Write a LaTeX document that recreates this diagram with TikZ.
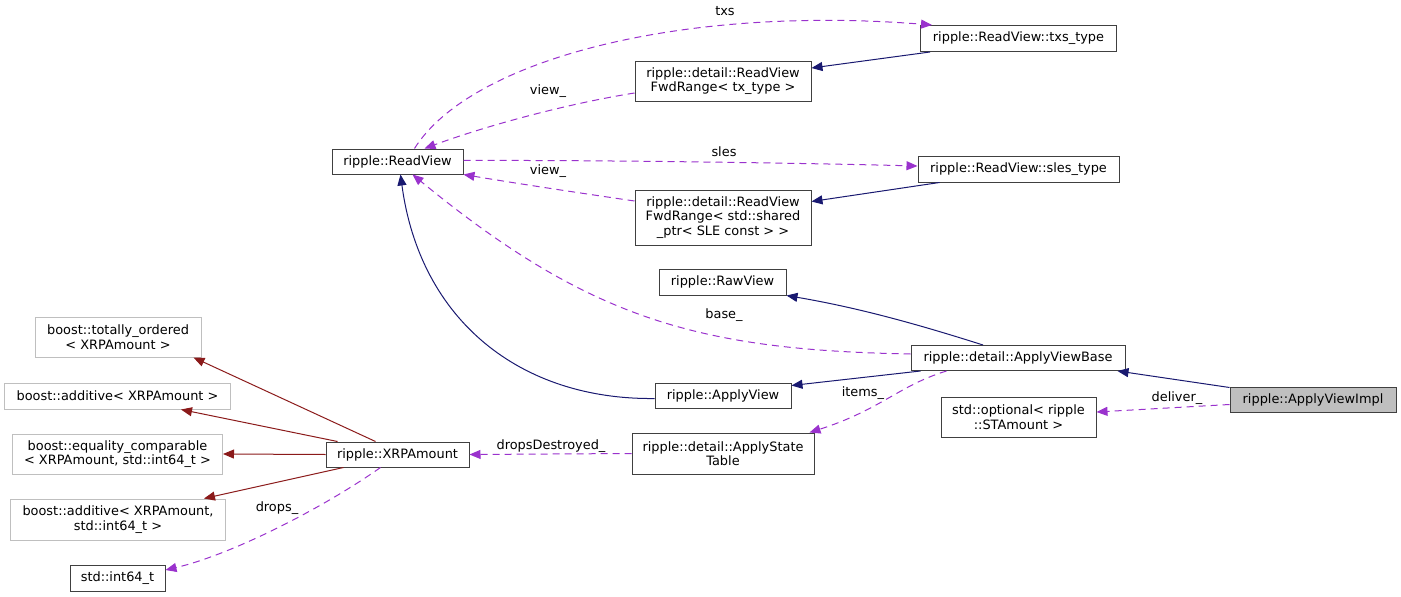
\documentclass[tikz,border=0pt]{standalone}
\usepackage{fontspec}
\setmainfont{DejaVu Sans}
\usetikzlibrary{arrows.meta}
\definecolor{navyedge}{RGB}{25,25,112}
\definecolor{rededge}{RGB}{139,26,26}
\definecolor{useedge}{RGB}{154,50,205}
\definecolor{extgray}{RGB}{191,191,191}
\begin{document}
\begin{tikzpicture}[x=1pt,y=-1pt,
	cls/.style={draw=black!75,line width=1pt,inner sep=0pt,align=center,font=\fontsize{12.9}{14.5}\selectfont},
	extcls/.style={cls,draw=extgray},
	inh/.style={navyedge,line width=1pt,-{Triangle[length=11pt,width=9pt]}},
	extinh/.style={inh,rededge},
	use/.style={useedge,line width=1pt,dash pattern=on 7pt off 5pt,-{Triangle[length=11pt,width=9pt]}},
	lbl/.style={inner sep=0pt,font=\fontsize{12.9}{14.5}\selectfont}]
		\useasboundingbox (0,0) rectangle (1401,597);
		
		%read view side
		\node[cls,minimum width=131pt,minimum height=25pt] (rv) at (397.5,161.5) {ripple::ReadView};
		\node[cls,minimum width=196pt,minimum height=26pt] (txs) at (1018.5,38.5) {ripple::ReadView::txs\_type};
		\node[cls,minimum width=201pt,minimum height=26pt] (sles) at (1018.5,169) {ripple::ReadView::sles\_type};
		\node[cls,minimum width=176pt,minimum height=40pt] (fwdtx) at (723,81) {ripple::detail::ReadView\\FwdRange< tx\_type >};
		\node[cls,minimum width=176pt,minimum height=55pt] (fwdsle) at (723,217.5) {ripple::detail::ReadView\\FwdRange< std::shared\\\_ptr< SLE const > >};
		
		%apply view side
		\node[cls,minimum width=127pt,minimum height=26pt] (raw) at (722.5,282) {ripple::RawView};
		\node[cls,minimum width=214pt,minimum height=25pt] (avb) at (1018,358) {ripple::detail::ApplyViewBase};
		\node[cls,minimum width=136pt,minimum height=25pt] (av) at (723,395.5) {ripple::ApplyView};
		\node[cls,minimum width=182pt,minimum height=41pt] (ast) at (723,453.5) {ripple::detail::ApplyState\\Table};
		\node[cls,minimum width=155pt,minimum height=40pt] (opt) at (1018.5,417) {std::optional< ripple\\::STAmount >};
		\node[cls,fill=extgray,minimum width=166pt,minimum height=25pt] (impl) at (1313,399.5) {ripple::ApplyViewImpl};
		
		%amount side
		\node[cls,minimum width=143pt,minimum height=25pt] (xrp) at (397.5,454.5) {ripple::XRPAmount};
		\node[extcls,minimum width=166pt,minimum height=40pt] (tot) at (118,337) {boost::totally\_ordered\\< XRPAmount >};
		\node[extcls,minimum width=226pt,minimum height=26pt] (addone) at (117.5,396) {boost::additive< XRPAmount >};
		\node[extcls,minimum width=210pt,minimum height=40pt] (eqc) at (117.5,454) {boost::equality\_comparable\\< XRPAmount, std::int64\_t >};
		\node[extcls,minimum width=215pt,minimum height=41pt] (addtwo) at (118,519.5) {boost::additive< XRPAmount,\\std::int64\_t >};
		\node[cls,minimum width=95pt,minimum height=26pt] (int) at (117.5,578) {std::int64\_t};
		
		%members
		\draw[use] ([xshift=17pt]rv.north) .. controls (470,60) and (680,5) .. ([xshift=12pt]txs.north west);
		\draw[use] ([yshift=-12pt]fwdtx.west) .. controls (560,105) and (480,128) .. ([xshift=27pt]rv.north);
		\draw[use] ([yshift=1pt]rv.east) .. controls (600,160) and (800,163) .. ([yshift=3pt]sles.west);
		\draw[use] ([yshift=16.5pt]fwdsle.west) .. controls (580,193) and (520,184) .. (rv.south east);
		\draw[use] ([yshift=4pt]avb.west) .. controls (700,350) and (590,320) .. ([xshift=15pt]rv.south);
		\draw[use] ([xshift=36pt]avb.south west) .. controls (900,385) and (880,410) .. ([xshift=-5pt]ast.north east);
		\draw[use] ([yshift=-5pt]impl.west) -- ([yshift=5pt]opt.east);
		\draw[use] (ast.west) -- (xrp.east);
		\draw[use] ([xshift=-17pt]xrp.south) .. controls (320,510) and (230,555) .. ([yshift=8pt]int.east);
		
		%bases
		\draw[inh] ([xshift=10pt]txs.south west) -- ([yshift=13pt]fwdtx.east);
		\draw[inh] ([xshift=22pt]sles.south west) -- ([yshift=16pt]fwdsle.east);
		\draw[inh] ([xshift=-35pt]avb.north) .. controls (920,325) and (860,308) .. (raw.south east);
		\draw[inh] ([yshift=-3pt]av.west) .. controls (520,400) and (420,320) .. ([xshift=3pt]rv.south);
		\draw[inh] ([xshift=10pt]avb.south west) -- ([yshift=10pt]av.east);
		\draw[inh] ([yshift=12pt]impl.west) -- ([xshift=-8pt]avb.south east);
		\draw[extinh] ([xshift=-22pt]xrp.north) -- ([xshift=-8pt]tot.south east);
		\draw[extinh] ([xshift=-60pt]xrp.north) -- ([xshift=-50pt]addone.south east);
		\draw[extinh] (xrp.west) -- (eqc.east);
		\draw[extinh] ([xshift=-54pt]xrp.south) -- ([xshift=-22pt]addtwo.north east);
		
		%labels
		\node[lbl] (ltxs) at (725,11) {txs};
		\node[lbl] (lviewa) at (548,91) {view\_};
		\node[lbl] (lsles) at (724,152) {sles};
		\node[lbl] (lviewb) at (548,171) {view\_};
		\node[lbl] (lbase) at (724,315) {base\_};
		\node[lbl] (litems) at (863,393) {items\_};
		\node[lbl] (ldeliver) at (1177,398) {deliver\_};
		\node[lbl] (ldrops) at (551,446) {dropsDestroyed\_};
		\node[lbl] (ldropsb) at (277,508) {drops\_};
\end{tikzpicture}
\end{document}
